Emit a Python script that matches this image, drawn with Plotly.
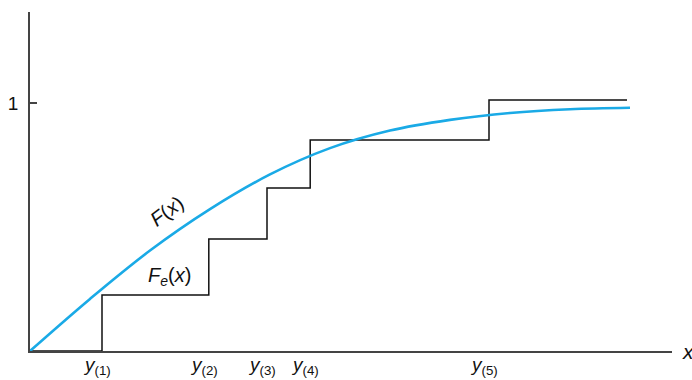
import plotly.graph_objects as go

# Data (x in arbitrary units, y as cumulative probability)
curve_x = [0, 1.0, 2.0, 3.0, 4.0, 5.0, 6.0, 7.0, 8.0, 9.0, 10.0]
curve_y = [0, 0.210, 0.405, 0.572, 0.712, 0.818, 0.889, 0.932, 0.960, 0.975, 0.981]

order_x = [1.2, 2.98, 3.95, 4.67, 7.65]
order_labels = ["(1)", "(2)", "(3)", "(4)", "(5)"]
step_levels = [0.226, 0.452, 0.657, 0.851, 1.012]
step_end = 9.95

# build empirical step function from the arrays
sx = [0]
sy = [0]
for xi, lv, prev in zip(order_x, step_levels, [0] + step_levels[:-1]):
    sx += [xi, xi]
    sy += [prev, lv]
sx.append(step_end)
sy.append(step_levels[-1])

FONT = "Liberation Sans, Arial, Helvetica, sans-serif"

fig = go.Figure()
fig.add_trace(go.Scatter(x=sx, y=sy, mode="lines",
                         line=dict(color="#111111", width=1.5),
                         hoverinfo="skip", showlegend=False))
fig.add_trace(go.Scatter(x=curve_x, y=curve_y, mode="lines",
                         line=dict(color="#1aaae6", width=2.6, shape="spline", smoothing=1.0),
                         hoverinfo="skip", showlegend=False))

annotations = []
for xi, lab in zip(order_x, order_labels):
    annotations.append(dict(x=xi, y=0, xref="x", yref="y",
                            text=f"<i>y</i><sub>{lab}</sub>", showarrow=False,
                            xanchor="center", yanchor="top", xshift=-5, yshift=-1,
                            font=dict(family=FONT, size=19, color="#111")))
annotations.append(dict(x=1, y=0, xref="paper", yref="y", text="<i>x</i>",
                        showarrow=False, xanchor="left", yanchor="middle", xshift=8,
                        font=dict(family=FONT, size=21, color="#111")))
annotations.append(dict(x=2.28, y=0.565, xref="x", yref="y", text="<i>F</i>(<i>x</i>)",
                        showarrow=False, textangle=-37,
                        font=dict(family=FONT, size=20, color="#111")))
annotations.append(dict(x=2.33, y=0.30, xref="x", yref="y", text="<i>F<sub>e</sub></i>(<i>x</i>)",
                        showarrow=False,
                        font=dict(family=FONT, size=20, color="#111")))

fig.update_layout(
    width=692, height=380,
    margin=dict(l=30, r=20, t=12, b=29, autoexpand=False),
    plot_bgcolor="white", paper_bgcolor="white",
    annotations=annotations,
    xaxis=dict(range=[0, 10.7], showgrid=False, zeroline=False, showline=True,
               linecolor="#444", linewidth=1.5, showticklabels=False, ticks="",
               automargin=False),
    yaxis=dict(range=[0, 1.367], showgrid=False, zeroline=False, showline=True,
               linecolor="#444", linewidth=1.5, tickmode="array", tickvals=[1], ticktext=["1"],
               ticks="inside", ticklen=7, tickcolor="#444", tickwidth=1.5,
               ticklabelstandoff=6, automargin=False,
               tickfont=dict(family=FONT, size=19, color="#111")),
)

fig.write_html("out.html", config={"displayModeBar": False},
               post_script="document.body.style.margin='0';")
